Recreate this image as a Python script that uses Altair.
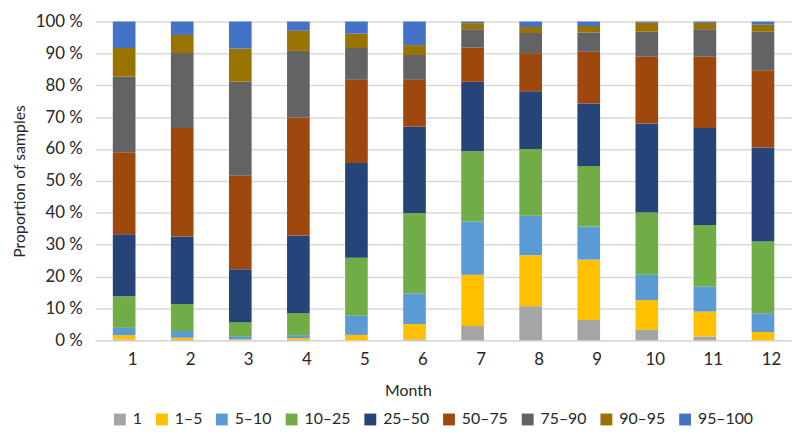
import altair as alt
import pandas as pd

months = list(range(1, 13))
categories = ["1", "1–5", "5–10", "10–25", "25–50", "50–75", "75–90", "90–95", "95–100"]
colors = ["#A5A5A5", "#FFC000", "#5B9BD5", "#70AD47", "#264478",
          "#9E480E", "#636363", "#997300", "#4472C4"]

# proportion of samples (%) per month, one list per category
v_1      = [0.2, 0.1, 0.0, 0.1, 0.0, 0.3, 4.5, 10.7, 6.4, 3.3, 1.2, 0.0]
v_1_5    = [1.4, 0.7, 0.3, 0.6, 1.7, 4.8, 16.1, 16.0, 18.9, 9.3, 7.8, 2.6]
v_5_10   = [2.3, 2.1, 1.0, 0.9, 6.0, 9.6, 16.7, 12.4, 10.4, 8.0, 7.9, 5.9]
v_10_25  = [9.9, 8.5, 4.4, 7.0, 18.2, 25.2, 22.0, 20.9, 19.0, 19.5, 19.3, 22.5]
v_25_50  = [19.5, 21.2, 16.6, 24.3, 29.7, 27.1, 21.8, 18.1, 19.6, 27.9, 30.4, 29.5]
v_50_75  = [25.7, 34.0, 29.3, 37.0, 26.1, 14.7, 10.7, 12.0, 16.2, 21.0, 22.4, 24.2]
v_75_90  = [23.7, 23.5, 29.6, 20.9, 10.0, 7.8, 5.8, 6.3, 6.1, 7.8, 8.6, 12.1]
v_90_95  = [9.0, 5.7, 10.3, 6.3, 4.5, 3.1, 1.9, 1.9, 2.0, 2.9, 2.0, 2.2]
v_95_100 = [8.3, 4.2, 8.5, 2.9, 3.8, 7.4, 0.5, 1.7, 1.4, 0.3, 0.4, 1.0]

series = [v_1, v_1_5, v_5_10, v_10_25, v_25_50, v_50_75, v_75_90, v_90_95, v_95_100]

rows = []
for ci, (cat, vals) in enumerate(zip(categories, series)):
    for m, v in zip(months, vals):
        rows.append({"Month": str(m), "cat": cat, "idx": ci, "value": v})
df = pd.DataFrame(rows)

FONT = "Lato"
TXT = "#262626"

chart = alt.Chart(df).mark_bar().encode(
    x=alt.X("Month:N", sort=[str(m) for m in months],
            scale=alt.Scale(paddingInner=0.61, paddingOuter=0.305),
            axis=alt.Axis(title="Month", labelAngle=0, ticks=False,
                          domain=True, domainColor="#d9d9d9", domainWidth=1.5,
                          labelPadding=11, tickOffset=8, titlePadding=16, titleX=316,
                          labelFontSize=17, titleFontSize=16, titleFontWeight="normal",
                          labelColor=TXT, titleColor=TXT)),
    y=alt.Y("value:Q", stack="normalize",
            scale=alt.Scale(domain=[0, 1], nice=False),
            axis=alt.Axis(title="Proportion of samples", values=[i / 10 for i in range(11)],
                          labelExpr="round(datum.value*100) + ' %'",
                          ticks=False, domain=False, grid=True,
                          gridColor="#d9d9d9", gridWidth=1.5,
                          labelPadding=13, titlePadding=8,
                          labelFontSize=17, titleFontSize=16, titleFontWeight="normal",
                          labelColor=TXT, titleColor=TXT)),
    color=alt.Color("cat:N", sort=categories,
                    scale=alt.Scale(domain=categories, range=colors),
                    legend=alt.Legend(title=None, orient="none", direction="horizontal",
                                      legendX=17, legendY=394,
                                      symbolType="square", symbolSize=144,
                                      symbolStrokeWidth=0, labelFontSize=16,
                                      labelColor=TXT, labelOffset=5,
                                      columnPadding=11.5)),
    order=alt.Order("idx:Q", sort="ascending"),
).properties(
    width=704, height=322,
    autosize=alt.AutoSizeParams(type="none"),
    padding={"left": 88, "top": 11.5, "right": 0, "bottom": 95.5},
).configure(font=FONT).configure_view(stroke=None)

chart.save("out.html", embed_options={"renderer": "svg", "actions": False})
